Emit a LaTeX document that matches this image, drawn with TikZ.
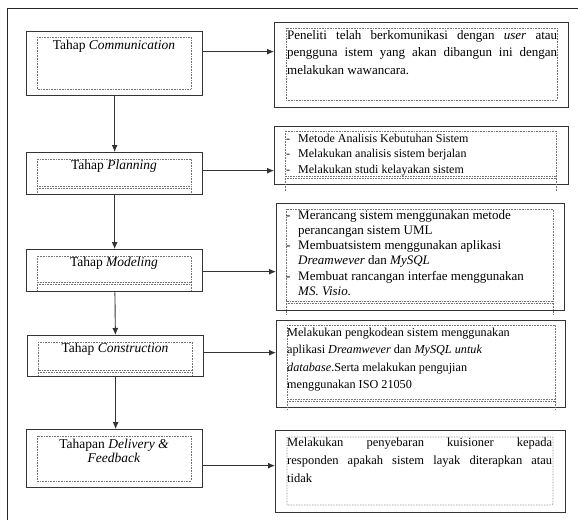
\documentclass[tikz,border=0pt]{standalone}
\usepackage{fontspec}
\setmainfont{Liberation Serif}
\usetikzlibrary{arrows.meta}
\begin{document}
\begin{tikzpicture}[x=1pt,y=-1pt,
    stagebox/.style={draw=black!80, line width=1.3pt, anchor=north west, inner sep=0pt},
    dotframe/.style={black!55, densely dotted, line width=0.6pt},
    arr/.style={-{Latex[length=7pt,width=6pt]}, line width=0.9pt, black!80},
    txt/.style={inner sep=0pt, font=\fontsize{12.5pt}{17.5pt}\selectfont},
    stagetxt/.style={inner sep=0pt, font=\fontsize{13.5pt}{14.5pt}\selectfont}]
    \useasboundingbox (0,0) rectangle (578,520);
    \draw[line width=1pt, black!85] (7,520) -- (7,8) -- (578,8);
    % tahap (kiri)
    \node[stagebox, minimum width=176pt, minimum height=64pt] (comm) at (26,31) {};
    \node[stagebox, minimum width=176pt, minimum height=42pt] (plan) at (26,152) {};
    \node[stagebox, minimum width=176pt, minimum height=42pt] (model) at (26,249) {};
    \node[stagebox, minimum width=176pt, minimum height=41pt] (constr) at (27,335) {};
    \node[stagebox, minimum width=176pt, minimum height=58pt] (deliv) at (26,429) {};
    \draw[dotframe] (37,37) rectangle (191,89);
    \draw[dotframe] (37,159) rectangle (191,186);
    \draw[dotframe] (37,186) -- (37,194) (191,186) -- (191,194) (37,188) -- (191,188);
    \draw[dotframe] (37,256) rectangle (191,282);
    \draw[dotframe] (37,282) -- (37,291) (191,282) -- (191,291) (37,284) -- (191,284);
    \draw[dotframe] (38,342) rectangle (192,370);
    \draw[dotframe] (38,370) -- (38,375) (192,370) -- (192,375) (38,372) -- (192,372);
    \draw[dotframe] (37,436) rectangle (191,481);
    \node[stagetxt] (commtxt) at (114,46) {Tahap \textit{Communication}};
    \node[stagetxt] (plantxt) at (114,166) {Tahap \textit{Planning}};
    \node[stagetxt] (modeltxt) at (114,263) {Tahap \textit{Modeling}};
    \node[stagetxt] (constrtxt) at (115,349) {Tahap \textit{Construction}};
    \node[stagetxt, align=center] (delivtxt) at (114,451)
        {Tahapan \textit{Delivery \&}\\\textit{Feedback}};
    % keterangan (kanan)
    \node[stagebox, minimum width=294pt, minimum height=85pt] (d1) at (274,22) {};
    \node[stagebox, minimum width=294pt, minimum height=58pt] (d2) at (274,126) {};
    \node[stagebox, minimum width=288pt, minimum height=107pt] (d3) at (276,203) {};
    \node[stagebox, minimum width=289pt, minimum height=87pt] (d4) at (276,320) {};
    \node[stagebox, minimum width=290pt, minimum height=82pt] (d5) at (275,430) {};
    \draw[dotframe] (286,28) rectangle (557,100);
    \draw[dotframe] (285,131) rectangle (556,176);
    \draw[dotframe] (285,176) -- (285,191) (556,176) -- (556,191) (285,178) -- (556,178);
    \draw[dotframe] (286,209) rectangle (553,301);
    \draw[dotframe] (286,301) -- (286,314) (553,301) -- (553,314) (286,303) -- (553,303);
    \draw[dotframe] (287,325) rectangle (555,399);
    \draw[dotframe] (287,399) -- (287,410) (555,399) -- (555,410) (287,401) -- (555,401);
    \draw[dotframe] (287,505) -- (287,437) -- (553,437) -- (553,502)
        .. controls (553,505) .. (550,505) -- cycle;
    \node[txt, anchor=north west, text width=270pt, align=justify,
          font=\fontsize{13pt}{17.5pt}\selectfont] (d1txt) at (287,30)
        {Peneliti telah berkomunikasi dengan \textit{user} atau\linebreak
         pengguna istem yang akan dibangun ini dengan\linebreak
         melakukan wawancara.};
    \node[txt, anchor=north west, align=left, font=\fontsize{12pt}{15.3pt}\selectfont] (d2txt) at (286,134)
        {\makebox[12pt][l]{-}Metode Analisis Kebutuhan Sistem\\
         \makebox[12pt][l]{-}Melakukan analisis sistem berjalan\\
         \makebox[12pt][l]{-}Melakukan studi kelayakan sistem};
    \node[txt, anchor=north west, align=left, font=\fontsize{13pt}{15.2pt}\selectfont] (d3txt) at (286,210)
        {\makebox[12pt][l]{-}Merancang sistem menggunakan metode\\
         \hspace*{12pt}perancangan sistem UML\\
         \makebox[12pt][l]{-}Membuatsistem menggunakan aplikasi\\
         \hspace*{12pt}\textit{Dreamwever} dan \textit{MySQL}\\
         \makebox[12pt][l]{-}Membuat rancangan interfae menggunakan\\
         \hspace*{12pt}\textit{MS. Visio.}};
    \node[txt, anchor=north west, align=left, font=\fontsize{12.2pt}{17.3pt}\selectfont] (d4txt) at (287,328)
        {Melakukan pengkodean sistem menggunakan\\
         aplikasi \textit{Dreamwever} dan \textit{MySQL untuk}\\
         \textit{database}.Serta melakukan pengujian\\
         menggunakan ISO 21050};
    \node[txt, anchor=north west, text width=265pt, align=justify, font=\fontsize{12.5pt}{18pt}\selectfont] (d5txt) at (287,438)
        {Melakukan penyebaran kuisioner kepada\linebreak
         responden apakah sistem layak diterapkan atau\linebreak
         tidak};
    % panah
    \draw[arr] (comm) -- (plan);
    \draw[arr] (plan) -- (model);
    \draw[arr] (model) -- (constr);
    \draw[arr] (constr) -- (constr |- deliv.north);
    \draw[arr] ([yshift=12pt]comm.east) -- ([yshift=12pt]comm.east -| d1.west);
    \draw[arr] ([yshift=3pt]plan.east) -- ([yshift=3pt]plan.east -| d2.west);
    \draw[arr] ([yshift=-1pt]model.east) -- ([yshift=-1pt]model.east -| d3.west);
    \draw[arr] ([yshift=3.5pt]constr.east) -- ([yshift=3.5pt]constr.east -| d4.west);
    \draw[arr] ([yshift=-7pt]deliv.east) -- ([yshift=-7pt]deliv.east -| d5.west);
\end{tikzpicture}
\end{document}
